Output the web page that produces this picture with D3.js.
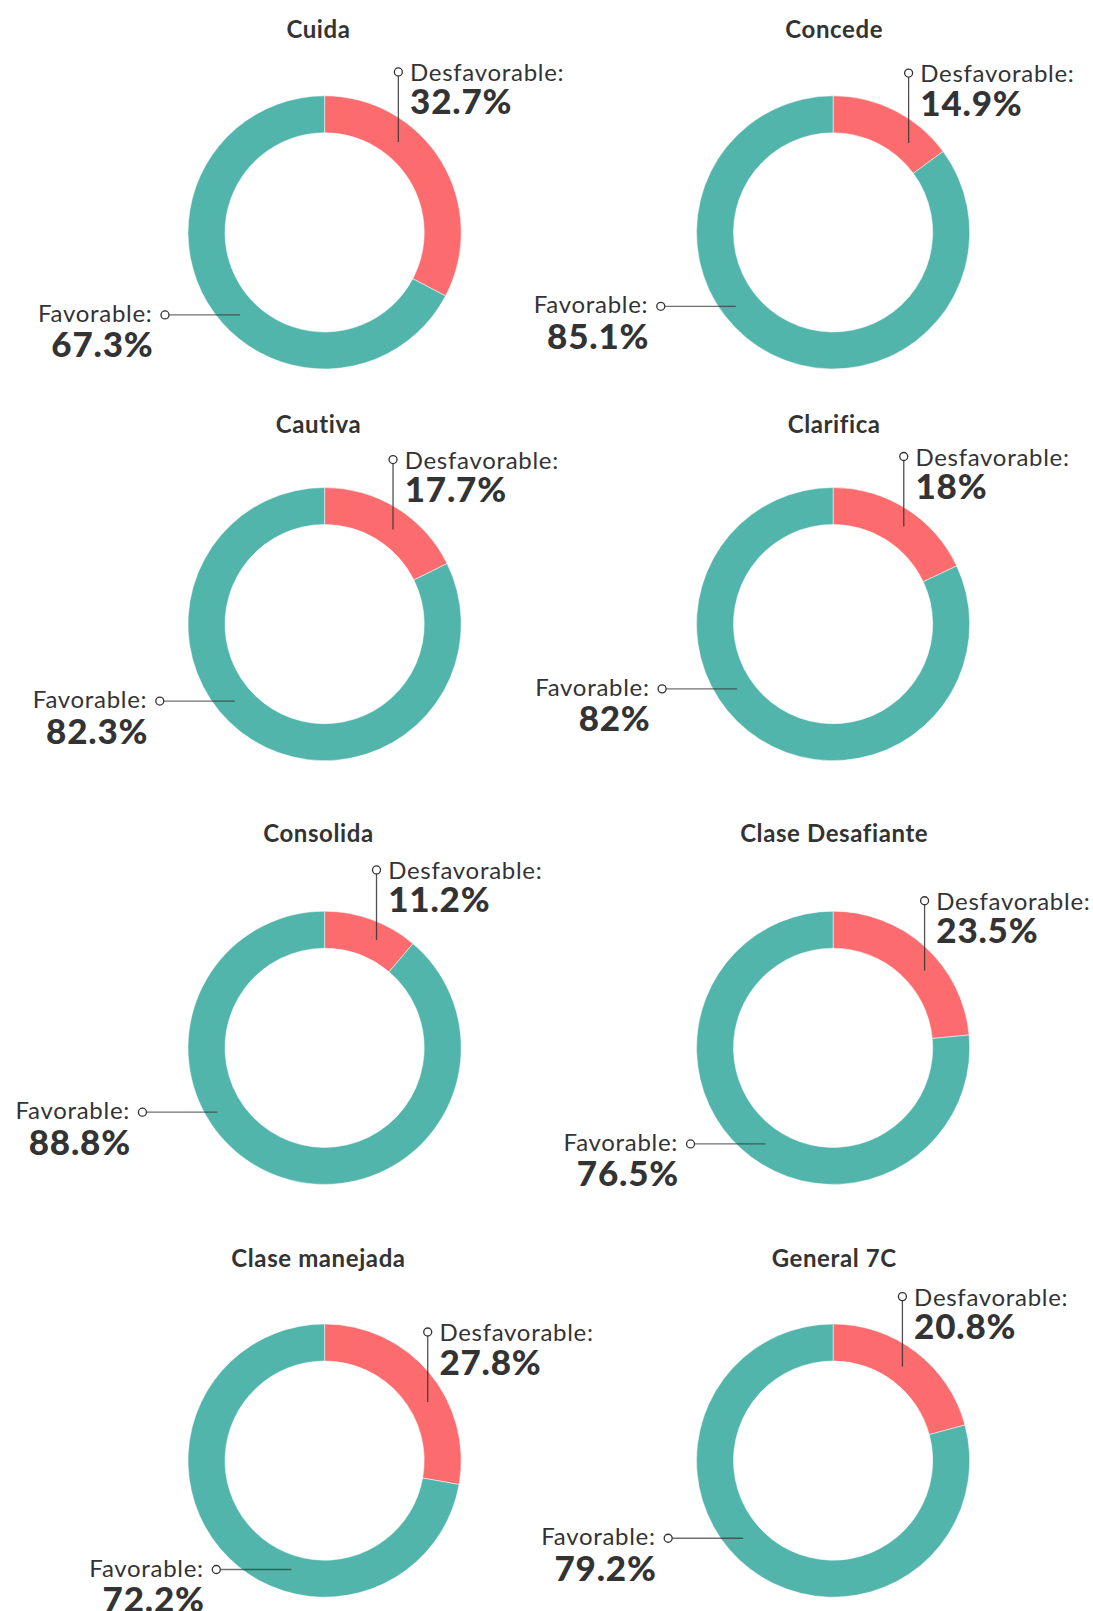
<!DOCTYPE html>
<html>
<head>
<meta charset="utf-8">
<script src="https://cdn.jsdelivr.net/npm/d3@7"></script>
<style>
  html, body { margin: 0; padding: 0; background: #fff; }
  svg { display: block; }
  text { font-family: Lato, "Open Sans", sans-serif; fill: #333; }
</style>
</head>
<body>
<svg id="chart" width="1093" height="1611"></svg>
<script>
// ---- data ----
const categories = ["Cuida", "Concede", "Cautiva", "Clarifica", "Consolida", "Clase Desafiante", "Clase manejada", "General 7C"];
const desfavorable = [32.7, 14.9, 17.7, 18, 11.2, 23.5, 27.8, 20.8];
const favorable = [67.3, 85.1, 82.3, 82, 88.8, 76.5, 72.2, 79.2];
const seriesNames = ["Desfavorable", "Favorable"];

// ---- layout (not data) ----
const colX = [324.6, 833.1];
const rowY = [232.4, 624.1, 1047.8, 1460.6];
const titleX = [318.5, 834.2];
const titleY = [38, 432.5, 842.4, 1266.7];
const outerR = 136.6, innerR = 99.6;
// annotation anchors: [angle in degrees clockwise from top, distance from centre]
const desfAnchor = [[39.2, 116.7], [40.2, 117], [35.9, 116.7], [35.9, 120.5], [25.7, 119.7], [49.9, 119.6], [60.4, 118.6], [36.4, 116.8]];
const favAnchor = [[225.7, 118.2], [232.8, 122.2], [229.4, 118.3], [236, 115.8], [239, 125], [215.1, 117.5], [197, 113.9], [229.2, 118.8]];
const colors = d3.scaleOrdinal().domain(seriesNames).range(["#fc6c6f", "#52b5ab"]);

const svg = d3.select("#chart");
const pie = d3.pie().sort(null).value(d => d.value);
const arc = d3.arc().innerRadius(innerR).outerRadius(outerR);

categories.forEach((cat, i) => {
  const cx = colX[i % 2], cy = rowY[Math.floor(i / 2)];
  const data = [
    { name: seriesNames[0], value: desfavorable[i] },
    { name: seriesNames[1], value: favorable[i] }
  ];
  const g = svg.append("g");

  g.append("text")
    .attr("x", titleX[i % 2]).attr("y", titleY[Math.floor(i / 2)])
    .attr("text-anchor", "middle")
    .attr("font-size", 24).attr("font-weight", 700)
    .attr("letter-spacing", 0.6)
    .text(cat);

  const ring = g.append("g").attr("transform", `translate(${cx},${cy})`);
  ring.selectAll("path").data(pie(data)).join("path")
    .attr("d", arc)
    .attr("fill", d => colors(d.data.name))
    .attr("stroke", "#fff").attr("stroke-width", 0.5);

  // Desfavorable annotation (vertical leader)
  const a1 = desfAnchor[i][0] * Math.PI / 180, r1 = desfAnchor[i][1];
  const ax = cx + r1 * Math.sin(a1), ay = cy - r1 * Math.cos(a1);
  const cy1 = ay - 70;
  g.append("line").attr("x1", ax).attr("y1", ay).attr("x2", ax).attr("y2", cy1 + 4)
    .attr("stroke", "#333").attr("stroke-width", 1.3).attr("stroke-opacity", 0.85);
  g.append("circle").attr("cx", ax).attr("cy", cy1).attr("r", 4)
    .attr("fill", "#fff").attr("stroke", "#333").attr("stroke-width", 1.3);
  g.append("text").attr("x", ax + 11.7).attr("y", cy1 + 9.3)
    .attr("font-size", 24).attr("letter-spacing", 0.7).text(seriesNames[0] + ":");
  g.append("text").attr("x", ax + 11.7).attr("y", cy1 + 42.5)
    .attr("font-size", 35).attr("font-weight", 900).attr("letter-spacing", 0.8)
    .text(desfavorable[i] + "%");

  // Favorable annotation (horizontal leader)
  const a2 = favAnchor[i][0] * Math.PI / 180, r2 = favAnchor[i][1];
  const bx = cx + r2 * Math.sin(a2), by = cy - r2 * Math.cos(a2);
  const cx2 = bx - 75;
  g.append("line").attr("x1", bx).attr("y1", by).attr("x2", cx2 + 4).attr("y2", by)
    .attr("stroke", "#333").attr("stroke-width", 1.3).attr("stroke-opacity", 0.7);
  g.append("circle").attr("cx", cx2).attr("cy", by).attr("r", 4)
    .attr("fill", "#fff").attr("stroke", "#333").attr("stroke-width", 1.3);
  g.append("text").attr("x", cx2 - 12.5).attr("y", by + 7)
    .attr("text-anchor", "end")
    .attr("font-size", 24).attr("letter-spacing", 0.7).text(seriesNames[1] + ":");
  g.append("text").attr("x", cx2 - 11.5).attr("y", by + 42.5)
    .attr("text-anchor", "end")
    .attr("font-size", 35).attr("font-weight", 900).attr("letter-spacing", 0.8)
    .text(favorable[i] + "%");
});
</script>
</body>
</html>
